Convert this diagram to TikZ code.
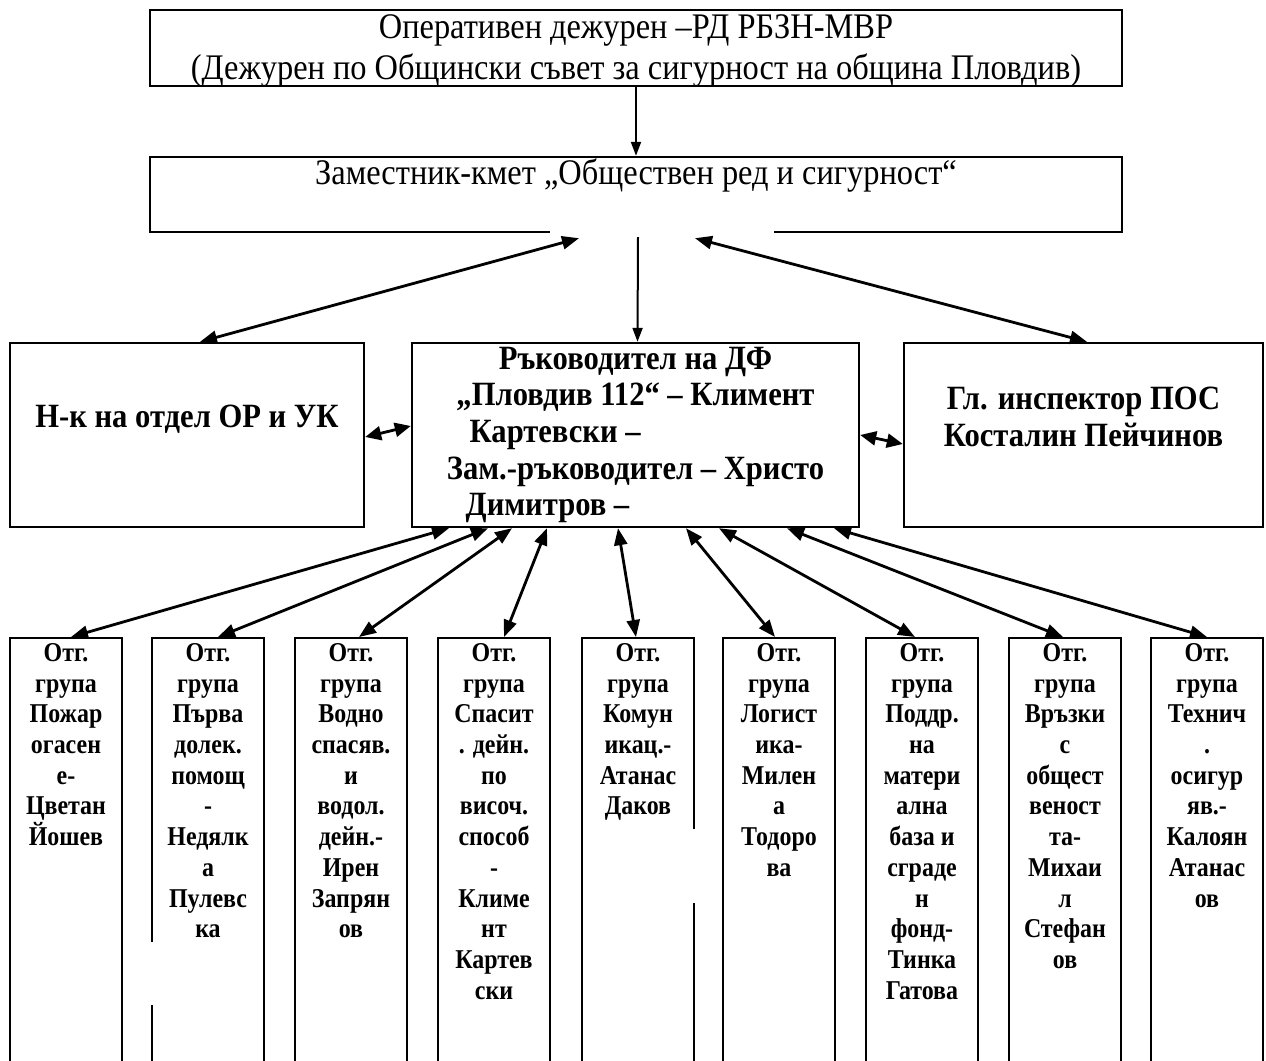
\documentclass[tikz,border=0pt]{standalone}
\usepackage{fontspec}
\setmainfont{Liberation Serif}
\newfontfamily\condA[FakeStretch=0.9]{Liberation Serif}
\newfontfamily\condB[FakeStretch=0.88]{Liberation Serif}
\usetikzlibrary{arrows.meta}
\begin{document}
\begin{tikzpicture}[x=0.5pt,y=-0.5pt,
  box/.style={draw, line width=1.2pt, inner sep=0pt},
  txt/.style={inner sep=0pt, align=center},
  topfont/.style={font=\condA\fontsize{18pt}{20.5pt}\selectfont},
  midfont/.style={font=\condA\bfseries\fontsize{17pt}{18.3pt}\selectfont},
  gbox/.style={draw, line width=1.2pt, inner sep=0pt, anchor=north, minimum width=56pt, minimum height=222pt},
  gtext/.style={inner sep=0pt, align=center, anchor=north, font=\condB\bfseries\fontsize{13.6pt}{15.35pt}\selectfont},
  conn/.style={line width=1.4pt, {Triangle[length=8.5pt,width=6.5pt]}-{Triangle[length=8.5pt,width=6.5pt]}},
  side/.style={line width=1.4pt, {Triangle[length=8pt,width=7pt]}-{Triangle[length=8pt,width=7pt]}},
  down/.style={line width=1pt, -{Triangle[length=7pt,width=5pt]}}
]
\useasboundingbox (0,0) rectangle (1266,1061);

% upper boxes
\node[box, minimum width=486pt, minimum height=38pt] (top) at (636,48) {};
\node[txt, topfont] (toptxt) at (636,51)
  {Оперативен дежурен –РД РБЗН-МВР\\(Дежурен по Общински съвет за сигурност на община Пловдив)};
\node[box, minimum width=486pt, minimum height=37.5pt] (dep) at (636,194.5) {};
\node[txt, topfont] (deptxt) at (636,175)
  {Заместник-кмет „Обществен ред и сигурност“};

% middle row
\node[box, midfont, align=center, minimum width=177pt, minimum height=92pt] (ork) at (187,435)
  {Н-к на отдел ОР и УК\\\mbox{}};
\node[box, midfont, align=center, minimum width=223.5pt, minimum height=92pt] (dfp) at (635.5,435)
  {Ръководител на ДФ\\„Пловдив 112“ – Климент\\Картевски – \phantom{000 000 000}\\Зам.-ръководител – Христо\\Димитров – \phantom{000 000 0000}};
\node[box, midfont, align=center, minimum width=179.5pt, minimum height=92pt] (pos) at (1083.5,435)
  {Гл. инспектор ПОС\\Косталин Пейчинов\\\mbox{}};

% bottom row
\node[gbox] (g1) at (66,637) {};
\node[gbox] (g2) at (208,637) {};
\node[gbox] (g3) at (351,637) {};
\node[gbox] (g4) at (494,637) {};
\node[gbox] (g5) at (638,637) {};
\node[gbox] (g6) at (779,637) {};
\node[gbox] (g7) at (922,637) {};
\node[gbox] (g8) at (1065,637) {};
\node[gbox] (g9) at (1207,637) {};

\node[gtext] (t1) at ([yshift=-3pt]g1.north) {Отг.\\група\\Пожар\\огасен\\е-\\Цветан\\Йошев};
\node[gtext] (t2) at ([yshift=-3pt]g2.north) {Отг.\\група\\Първа\\долек.\\помощ\\-\\Недялк\\а\\Пулевс\\ка};
\node[gtext] (t3) at ([yshift=-3pt]g3.north) {Отг.\\група\\Водно\\спасяв.\\и\\водол.\\дейн.-\\Ирен\\Запрян\\ов};
\node[gtext] (t4) at ([yshift=-3pt]g4.north) {Отг.\\група\\Спасит\\. дейн.\\по\\височ.\\способ\\-\\Климе\\нт\\Картев\\ски};
\node[gtext] (t5) at ([yshift=-3pt]g5.north) {Отг.\\група\\Комун\\икац.-\\Атанас\\Даков};
\node[gtext] (t6) at ([yshift=-3pt]g6.north) {Отг.\\група\\Логист\\ика-\\Милен\\а\\Тодоро\\ва};
\node[gtext] (t7) at ([yshift=-3pt]g7.north) {Отг.\\група\\Поддр.\\на\\матери\\ална\\база и\\сграде\\н\\фонд-\\Тинка\\Гатова};
\node[gtext] (t8) at ([yshift=-3pt]g8.north) {Отг.\\група\\Връзки\\с\\общест\\веност\\та-\\Михаи\\л\\Стефан\\ов};
\node[gtext] (t9) at ([yshift=-3pt]g9.north) {Отг.\\група\\Технич\\.\\осигур\\яв.-\\Калоян\\Атанас\\ов};

% blank patches (gaps in the lines)
\fill[white] (550,226) rectangle (774,240);
\fill[white] (147,942) rectangle (157,1005);
\fill[white] (688,829) rectangle (698,903);

% connectors
\draw[down] (top.south) -- (dep.north);
\draw[conn] ([xshift=-28.5pt,yshift=-2.5pt]dep.south) -- ([xshift=6.5pt]ork.north);
\draw[down] ([xshift=1pt,yshift=-2pt]dep.south) -- ([xshift=1pt]dfp.north);
\draw[conn] ([xshift=29.5pt,yshift=-2.5pt]dep.south) -- ([xshift=1.75pt]pos.north);
\draw[side] ([yshift=-1pt]ork.east) -- ([yshift=4.5pt]dfp.west);
\draw[side] (dfp.east) -- ([yshift=-4.5pt]pos.west);

\draw[conn] ([xshift=-93.25pt]dfp.south) -- ([xshift=2.5pt]g1.north);
\draw[conn] ([xshift=-73.75pt]dfp.south) -- ([xshift=5pt]g2.north);
\draw[conn] ([xshift=-61.75pt]dfp.south) -- ([xshift=4pt]g3.north);
\draw[conn] ([xshift=-44.25pt]dfp.south) -- ([xshift=5pt]g4.north);
\draw[conn] ([xshift=-8.75pt]dfp.south) -- ([xshift=-1pt]g5.north);
\draw[conn] ([xshift=25.25pt]dfp.south) -- ([xshift=-2pt]g6.north);
\draw[conn] ([xshift=41.75pt]dfp.south) -- ([xshift=-3.5pt]g7.north);
\draw[conn] ([xshift=75.75pt]dfp.south) -- ([xshift=-1pt]g8.north);
\draw[conn] ([xshift=99.25pt]dfp.south) -- (g9.north);
\end{tikzpicture}
\end{document}
